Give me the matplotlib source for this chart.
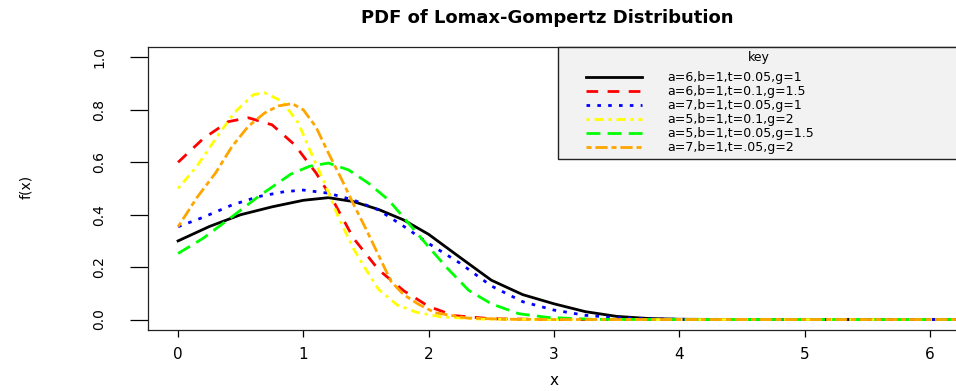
import matplotlib
matplotlib.use("Agg")
import matplotlib.pyplot as plt
from matplotlib.lines import Line2D
from matplotlib.legend_handler import HandlerLine2D

plt.rcParams['font.family'] = ['DejaVu Sans']

# ---- data ----
x_black = [0, 0.25, 0.5, 0.75, 1.0, 1.2, 1.4, 1.6, 1.8, 2.0, 2.25, 2.5, 2.75, 3.0, 3.25, 3.5, 3.75, 4.0, 4.5, 6.5]
y_black = [0.30, 0.355, 0.40, 0.43, 0.455, 0.465, 0.45, 0.42, 0.38, 0.325, 0.237, 0.15, 0.095, 0.06, 0.03, 0.012, 0.004, 0.001, 0.0, 0.0]

x_red = [0, 0.2, 0.4, 0.56, 0.75, 0.93, 1.1, 1.23, 1.4, 1.6, 1.8, 2.0, 2.2, 2.5, 3.0, 6.5]
y_red = [0.60, 0.69, 0.755, 0.77, 0.743, 0.667, 0.56, 0.46, 0.31, 0.19, 0.11, 0.05, 0.015, 0.003, 0.0, 0.0]

x_blue = [0, 0.2, 0.43, 0.64, 0.85, 1.0, 1.2, 1.4, 1.6, 1.8, 2.0, 2.25, 2.5, 2.75, 3.0, 3.25, 3.5, 3.8, 4.2, 6.5]
y_blue = [0.354, 0.39, 0.437, 0.469, 0.488, 0.494, 0.482, 0.456, 0.418, 0.356, 0.29, 0.215, 0.128, 0.068, 0.036, 0.016, 0.007, 0.002, 0.0, 0.0]

x_yellow = [0, 0.15, 0.3, 0.45, 0.6, 0.69, 0.83, 0.96, 1.05, 1.17, 1.28, 1.4, 1.5, 1.6, 1.75, 1.9, 2.1, 2.4, 3.0, 6.5]
y_yellow = [0.50, 0.585, 0.69, 0.79, 0.858, 0.865, 0.833, 0.75, 0.648, 0.52, 0.39, 0.27, 0.19, 0.115, 0.055, 0.028, 0.01, 0.002, 0.0, 0.0]

x_green = [0, 0.2, 0.43, 0.64, 0.9, 1.05, 1.2, 1.36, 1.52, 1.68, 1.84, 2.0, 2.15, 2.32, 2.5, 2.72, 2.95, 3.3, 4.0, 6.5]
y_green = [0.252, 0.31, 0.392, 0.469, 0.555, 0.585, 0.597, 0.571, 0.52, 0.456, 0.367, 0.277, 0.195, 0.111, 0.06, 0.022, 0.008, 0.001, 0.0, 0.0]

x_orange = [0, 0.15, 0.3, 0.43, 0.56, 0.69, 0.8, 0.91, 1.0, 1.1, 1.2, 1.3, 1.4, 1.5, 1.6, 1.7, 1.8, 1.92, 2.05, 2.3, 2.6, 3.0, 6.5]
y_orange = [0.354, 0.465, 0.56, 0.66, 0.737, 0.788, 0.815, 0.824, 0.80, 0.735, 0.635, 0.54, 0.44, 0.345, 0.245, 0.145, 0.095, 0.058, 0.026, 0.006, 0.001, 0.0, 0.0]

labels = ["a=6,b=1,t=0.05,g=1", "a=6,b=1,t=0.1,g=1.5", "a=7,b=1,t=0.05,g=1",
          "a=5,b=1,t=0.1,g=2", "a=5,b=1,t=0.05,g=1.5", "a=7,b=1,t=.05,g=2"]
colors = ["black", "#FF0000", "#0000FF", "#FFFF00", "#00FF00", "#FFA500"]
styles = ["-", (0, (4.2, 3.4)), (0, (1.3, 2.6)), (0, (1.1, 1.8, 3.2, 1.8)),
          (0, (5.0, 2.6)), (0, (1.8, 1.4, 4.4, 1.4))]
x_ticks = [0, 1, 2, 3, 4, 5, 6]
y_ticks = [0.0, 0.2, 0.4, 0.6, 0.8, 1.0]
y_ticklabels = ["0.0", "0.2", "0.4", "0.6", "0.8", "1.0"]

series = [(x_black, y_black), (x_red, y_red), (x_blue, y_blue),
          (x_yellow, y_yellow), (x_green, y_green), (x_orange, y_orange)]

W, H = 956, 391
fig = plt.figure(figsize=(W / 100, H / 100), dpi=100)
ax = fig.add_axes([148 / W, (H - 330) / H, 812 / W, 283 / H])

for (xs, ys), c, ls, lab in zip(series, colors, styles, labels):
    ax.plot(xs, ys, color=c, linestyle=ls, linewidth=2.0, label=lab)

ax.set_xlim(-0.24, 6.24)
ax.set_ylim(-0.04, 1.04)
ax.set_xticks(x_ticks)
ax.set_xticklabels([str(v) for v in x_ticks], fontsize=11)
ax.set_yticks(y_ticks)
ax.set_yticklabels(y_ticklabels, fontsize=10, rotation=90, va='center')
ax.tick_params(axis='x', length=5, width=0.9, pad=7)
ax.tick_params(axis='y', length=13, width=0.9, pad=17)
for sp in ax.spines.values():
    sp.set_linewidth(0.9)
    sp.set_color('#222222')

ax.set_xlabel("x", fontsize=11, labelpad=8)
fig.text(26 / W, 1 - 187 / H, "f(x)", rotation=90, ha='center', va='center', fontsize=10)
fig.text(547 / W, 1 - 18 / H, "PDF of Lomax-Gompertz Distribution",
         ha='center', va='center', fontsize=13, fontweight='bold')


class ShiftedLine(HandlerLine2D):
    def __init__(self, frac, **kw):
        super().__init__(**kw)
        self.frac = frac

    def get_xdata(self, legend, xdescent, ydescent, width, height, fontsize):
        x0 = -xdescent + self.frac * width
        x1 = -xdescent + width
        return [x0, x1], [0.5 * (x0 + x1)]


x0 = (558 - 148) / 812
leg = ax.legend(loc='upper right', bbox_to_anchor=(x0, 0.0, 1.0 - x0, 1.0),
                mode='expand', borderaxespad=0, fontsize=9, title='key',
                title_fontsize=9, labelspacing=0.08, borderpad=0.35,
                handlelength=6.4, handletextpad=2.0, fancybox=False,
                framealpha=1, facecolor='#f2f2f2', edgecolor='#222222',
                handler_map={Line2D: ShiftedLine(0.3)})
leg.get_frame().set_linewidth(1.0)
leg._legend_box.sep = 5

fig.savefig("out.png", dpi=100)
